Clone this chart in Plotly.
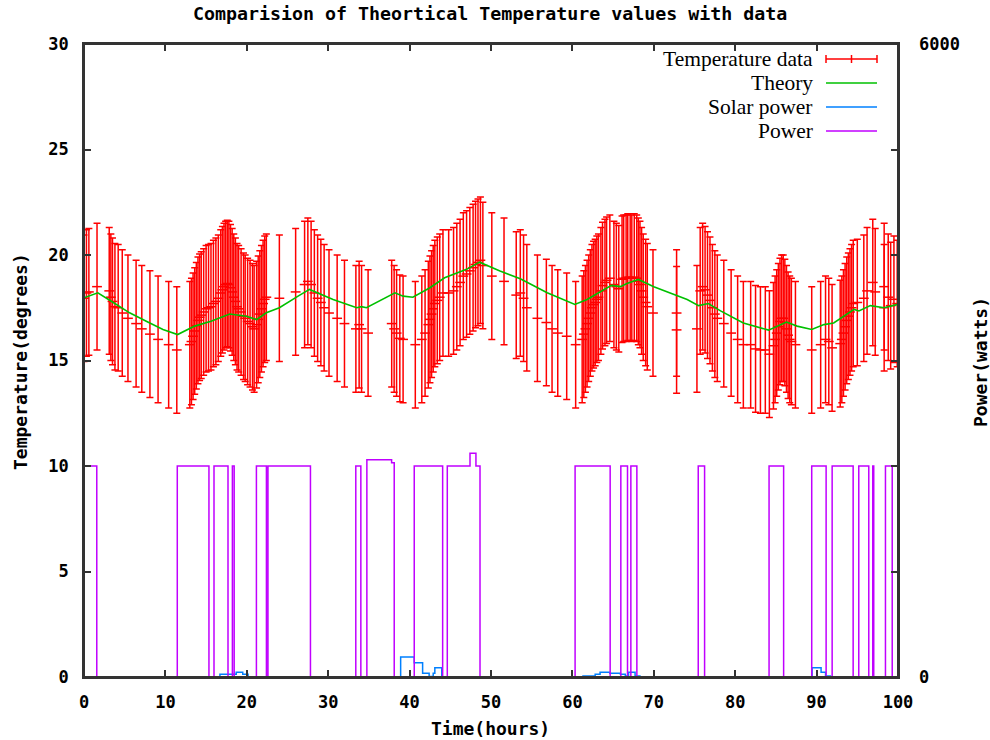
import plotly.graph_objects as go

# ---- measured temperature (centre of each error bar), degrees ----
temp_time = [
    0.0, 0.3, 0.6, 1.6, 3.1, 3.3, 3.5, 3.8, 4.2, 4.7, 5.4, 6.4, 7.1, 8.1, 9.1, 10.4, 11.4,
    13.0, 13.2, 13.4, 13.6, 13.8, 14.0, 14.2, 14.4, 14.7, 15.0, 15.3, 15.6, 15.9, 16.2,
    16.5, 16.8, 17.0, 17.2, 17.4, 17.6, 17.8, 18.0, 18.2, 18.4, 18.6, 18.8, 19.0, 19.3,
    19.6, 19.8, 20.1, 20.4, 20.7, 20.9, 21.2, 21.4, 21.6, 21.8, 22.0, 22.2, 22.4,
    24.0, 26.0, 27.1, 27.5, 27.9, 28.3, 28.7, 29.1, 29.5, 30.1, 31.1, 32.0, 33.4, 33.8,
    34.1, 34.9,
    37.8, 38.1, 38.4, 38.8, 39.2, 40.7, 41.5, 41.9, 42.3, 42.5, 42.7, 42.9, 43.1, 43.4,
    43.7, 44.1, 44.8, 45.4, 45.8, 46.2, 46.6, 47.0, 47.4, 47.8, 48.1, 48.4, 48.7, 49.0,
    50.1, 51.6, 53.1,
    53.6, 54.0, 54.4, 55.7, 56.8, 57.5, 58.2, 59.3, 60.4, 61.2, 61.4, 61.6, 61.8, 62.0,
    62.2, 62.4, 62.6, 62.8, 63.0, 63.2, 63.5, 63.7, 64.0, 64.2, 64.6, 65.1, 65.4, 65.7,
    66.1, 66.3, 66.6, 66.8, 67.1, 67.3, 67.6, 67.9, 68.1, 68.3, 68.5, 68.7, 69.0, 69.2,
    69.9, 72.8, 72.8,
    75.3, 75.7, 76.0, 76.3, 76.6, 76.9, 77.2, 77.5, 77.8, 78.6, 79.5, 80.3, 81.0, 81.9,
    82.5, 83.1, 83.7, 84.2,
    84.7, 84.9, 85.1, 85.3, 85.5, 85.7, 85.9, 86.1, 86.3, 86.5, 86.7, 86.9, 87.4, 89.4,
    90.5, 91.1, 91.5, 91.9, 92.9, 93.1, 93.3, 93.5, 93.7, 93.9, 94.1, 94.3, 94.5, 95.0,
    95.8, 96.2, 96.9, 97.2, 98.3, 98.3, 98.8, 99.1, 99.5, 99.9,
]
temp_value = [
    17.95, 18.2, 18.25, 18.5, 18.3, 18.0, 17.8, 17.55, 17.5, 17.25, 17.0, 16.75, 16.5, 16.25, 16.0, 15.75, 15.5,
    15.75, 15.9, 16.15, 16.4, 16.65, 16.9, 17.05, 17.15, 17.3, 17.45, 17.5, 17.55, 17.7, 17.8,
    17.95, 18.2, 18.35, 18.5, 18.6, 18.65, 18.6, 18.45, 18.25, 18.0, 17.8, 17.55, 17.45, 17.3,
    17.1, 17.0, 16.85, 16.75, 16.6, 16.5, 16.7, 16.95, 17.2, 17.45, 17.7, 17.9, 18.0,
    17.95, 18.25, 18.6, 18.75, 18.6, 18.2, 17.95, 17.75, 17.5, 17.25, 17.0, 16.75, 16.5, 16.7,
    16.5, 16.3,
    16.75, 16.5, 16.3, 16.05, 16.0, 15.75, 16.0, 16.3, 16.7, 16.95, 17.2, 17.45, 17.7, 17.85,
    18.0, 18.2, 18.2, 18.3, 18.5, 18.7, 19.0, 19.1, 19.25, 19.4, 19.55, 19.65, 19.75, 19.5,
    19.0, 18.75, 18.1,
    18.2, 17.95, 17.5, 17.0, 16.8, 16.5, 16.3, 16.15, 15.75, 16.0, 16.25, 16.5, 16.75, 17.0,
    17.25, 17.5, 17.65, 17.75, 17.9, 18.0, 18.3, 18.55, 18.7, 18.8, 18.9, 18.6, 18.5, 18.4,
    18.85, 18.9, 18.9, 18.95, 18.95, 18.9, 18.95, 18.9, 18.75, 18.6, 18.3, 18.0, 17.75, 17.55,
    17.25, 17.25, 16.45,
    16.5, 18.3, 18.5, 18.35, 18.1, 17.85, 17.5, 17.2, 17.0, 16.75, 16.3, 16.0, 15.75, 15.75,
    15.55, 15.5, 15.5, 15.3,
    15.7, 16.0, 16.3, 16.6, 16.85, 17.0, 17.0, 16.8, 16.5, 16.2, 16.0, 15.9, 15.75, 15.5,
    15.75, 16.0, 15.9, 15.6, 15.8, 16.0, 16.3, 16.6, 16.9, 17.1, 17.3, 17.5, 17.7, 17.75,
    17.95, 18.3, 18.7, 18.25, 18.5, 17.5, 18.0, 17.6, 17.9, 17.7,
]
temp_error = 3.0  # +/- degrees on every reading

# ---- model prediction, degrees ----
theory_time = [
    0.0, 1.7, 3.5, 5.6, 7.65, 9.7, 11.5, 13.6, 15.6, 17.9, 19.95, 21.2, 22.4, 24.0, 26.3,
    27.7, 30.6, 33.5, 34.1, 34.7, 38.2, 39.2, 40.4, 42.5, 44.3, 47.0, 48.6, 51.1, 53.6,
    56.9, 60.3, 61.8, 64.8, 65.9, 66.7, 68.1, 70.0, 74.1, 75.5, 76.7, 78.2, 81.0, 84.1,
    86.3, 87.6, 89.4, 90.9, 92.1, 94.6, 95.2, 96.6, 98.3, 100.0,
]
theory_value = [
    17.97, 18.21, 17.77, 17.26, 16.86, 16.47, 16.23, 16.63, 16.86, 17.2, 17.1, 16.94, 17.26, 17.5, 18.05,
    18.37, 17.89, 17.5, 17.55, 17.5, 18.21, 18.05, 18.0, 18.45, 18.92, 19.32, 19.66, 19.24, 18.87,
    18.21, 17.66, 17.89, 18.56, 18.5, 18.65, 18.84, 18.5, 17.89, 17.6, 17.7, 17.35, 16.78, 16.44,
    16.82, 16.63, 16.47, 16.7, 16.78, 17.42, 17.35, 17.6, 17.5, 17.66,
]

# ---- solar power (watts), step changes ----
solar_time = [
    0.0, 16.7, 18.7, 19.5, 20.15,
    38.9, 40.57, 41.6, 42.4, 42.9, 43.1, 43.95,
    61.3, 62.8, 63.4, 64.6, 65.9, 66.5, 66.9, 67.7, 68.3,
    89.45, 90.55, 91.1, 91.7, 100.0,
]
solar_watts = [
    0, 25, 45, 25, 0,
    190, 135, 35, 5, 35, 88, 0,
    10, 25, 45, 35, 25, 10, 45, 10, 0,
    88, 45, 10, 0, 0,
]

# ---- heater power (watts), step changes ----
power_time = [
    0.0, 1.57, 11.46, 15.35, 15.97, 17.69, 18.23, 18.45, 21.18, 22.41, 22.6, 27.82,
    33.39, 34.01, 34.75, 37.79, 38.11, 40.57, 44.06, 44.63, 47.42, 48.15, 48.65,
    60.33, 64.64, 65.95, 66.77, 67.18, 67.92, 75.46, 76.24, 84.16, 85.95,
    89.4, 91.17, 91.91, 94.49, 95.18, 96.41, 96.9, 97.02, 98.46, 99.29, 100.0,
]
power_watts = [
    2000, 0, 2000, 0, 2000, 0, 2000, 0, 2000, 0, 2000, 0,
    2000, 0, 2060, 2030, 0, 2000, 0, 2000, 2120, 2000, 0,
    2000, 0, 2000, 0, 2000, 0, 2000, 0, 2000, 0,
    2000, 0, 2000, 0, 2000, 0, 2000, 0, 2000, 0, 0,
]

x_ticks = list(range(0, 101, 10))
y_ticks = list(range(0, 31, 5))
y2_ticks = [0, 6000]

RED, GREEN, BLUE, MAGENTA = "#ff0000", "#00c000", "#0080ff", "#c000ff"
FRAME = "#333333"
MONO = dict(family="DejaVu Sans Mono", size=17, color="#000000", weight="bold")
MONO_TITLE = dict(MONO, size=18.3)
MONO_LABEL = dict(MONO, size=18)

fig = go.Figure()

fig.add_trace(go.Scatter(
    x=temp_time, y=temp_value, mode="markers", name="Temperature data",
    marker=dict(symbol="line-ew", size=7, color=RED, line=dict(color=RED, width=1.5)),
    error_y=dict(type="constant", value=temp_error, color=RED, thickness=1.5, width=3.5),
    showlegend=False,
))
fig.add_trace(go.Scatter(
    x=theory_time, y=theory_value, mode="lines", name="Theory",
    line=dict(color=GREEN, width=1.6), showlegend=False,
))
fig.add_trace(go.Scatter(
    x=solar_time, y=solar_watts, mode="lines", name="Solar power", yaxis="y2",
    line=dict(color=BLUE, width=1.5, shape="hv"), showlegend=False,
))
fig.add_trace(go.Scatter(
    x=power_time, y=power_watts, mode="lines", name="Power", yaxis="y2",
    line=dict(color=MAGENTA, width=1.5, shape="hv"), showlegend=False,
))

# Key in the upper right: right-aligned labels with line samples after them
L, R, T, B = 84, 92, 44, 63
W, H = 990 - L - R, 740 - T - B


def px_x(px):
    return (px - L) / W


def px_y(py):
    return (740 - B - py) / H


key_rows = [("Temperature data", RED, 59), ("Theory", GREEN, 83),
            ("Solar power", BLUE, 107), ("Power", MAGENTA, 131)]
shapes = []
annotations = []
for label, colour, ypix in key_rows:
    annotations.append(dict(
        text=label, x=px_x(815), y=px_y(ypix), xref="paper", yref="paper",
        xanchor="right", yanchor="middle", showarrow=False,
        font=dict(family="Liberation Serif", size=21.5, color="#000000"),
    ))
    shapes.append(dict(type="line", xref="paper", yref="paper",
                       x0=px_x(826), x1=px_x(877), y0=px_y(ypix), y1=px_y(ypix),
                       line=dict(color=colour, width=1.5)))
# error-bar sample: caps at both ends and a centre tick
for xp in (826, 851.5, 877):
    shapes.append(dict(type="line", xref="paper", yref="paper",
                       x0=px_x(xp), x1=px_x(xp), y0=px_y(59 - 4), y1=px_y(59 + 4),
                       line=dict(color=RED, width=1.5)))

# plot frame drawn over the traces so the zero-level steps sit under the border
shapes.append(dict(type="rect", xref="paper", yref="paper", x0=0, x1=1, y0=0, y1=1,
                   layer="above", line=dict(color=FRAME, width=2),
                   fillcolor="rgba(0,0,0,0)"))

annotations += [
    dict(text="Comparision of Theortical Temperature values with data", x=px_x(490), y=px_y(14),
         xref="paper", yref="paper", xanchor="center", yanchor="middle", showarrow=False,
         font=MONO_TITLE),
    dict(text="Time(hours)", x=px_x(490), y=px_y(728), xref="paper", yref="paper",
         xanchor="center", yanchor="middle", showarrow=False, font=MONO_LABEL),
    dict(text="Temperature(degrees)", x=px_x(20), y=px_y(362), xref="paper", yref="paper",
         xanchor="center", yanchor="middle", textangle=-90, showarrow=False, font=MONO_LABEL),
    dict(text="Power(watts)", x=px_x(980), y=px_y(362), xref="paper", yref="paper",
         xanchor="center", yanchor="middle", textangle=-90, showarrow=False, font=MONO_LABEL),
]

axis_common = dict(showgrid=False, zeroline=False, showline=True, linecolor=FRAME,
                   linewidth=1.5, ticks="inside", ticklen=7, tickcolor=FRAME,
                   tickwidth=1.5, tickfont=MONO)

fig.update_layout(
    width=990, height=740, autosize=False,
    margin=dict(l=L, r=R, t=T, b=B, pad=0),
    paper_bgcolor="#ffffff", plot_bgcolor="#ffffff",
    showlegend=False,
    xaxis=dict(range=[0, 100], tickvals=x_ticks, mirror="ticks", ticklabelstandoff=9, **axis_common),
    yaxis=dict(range=[0, 30], tickvals=y_ticks, mirror="ticks", ticklabelstandoff=10, **axis_common),
    yaxis2=dict(range=[0, 6000], tickvals=y2_ticks, overlaying="y", side="right",
                showgrid=False, zeroline=False, showline=False, ticks="",
                ticklabelstandoff=20, tickfont=MONO),
    shapes=shapes,
    annotations=annotations,
)

fig.write_html("out.html")
